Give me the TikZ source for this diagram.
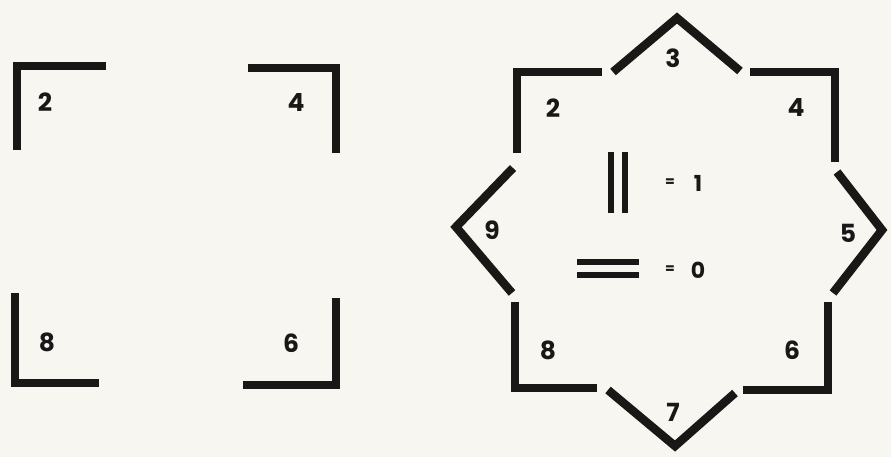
\documentclass[tikz,border=0pt]{standalone}
\usepackage{fontspec}
\setsansfont{Poppins}
\definecolor{ink}{RGB}{26,24,22}
\definecolor{paper}{RGB}{248,246,240}
\tikzset{
	bar/.style={draw=ink, line width=8.5pt, line join=miter},
	thinbar/.style={draw=ink, line width=6pt},
	num/.style={text=ink, font=\sffamily\bfseries\fontsize{25}{28}\selectfont},
	key/.style={text=ink, font=\sffamily\bfseries\fontsize{22}{24}\selectfont},
	keyeq/.style={text=ink, font=\sffamily\bfseries\fontsize{14}{15}\selectfont}
}
\begin{document}
\begin{tikzpicture}[x=1pt, y=-1pt]
	\fill[paper] (0,0) rectangle (891,457);
	\useasboundingbox (0,0) rectangle (891,457);

	% four separate corners
	\draw[bar] (17,150) -- (17,66) -- (106,66);
	\draw[bar] (248,68) -- (336,68) -- (336,153);
	\draw[bar] (15,293) -- (15,383) -- (99,383);
	\draw[bar] (243,385) -- (336,385) -- (336,298);
	\node[num] (a2) at (45,102) {2};
	\node[num] (a4) at (296,103) {4};
	\node[num] (a8) at (47,342) {8};
	\node[num] (a6) at (291,343) {6};

	% the star
	\draw[bar] (517,153) -- (517,72) -- (602,72);
	\draw[bar] (613,72) -- (677,18) -- (740,71);
	\draw[bar] (750,72) -- (835,72) -- (835,162);
	\draw[bar] (837,172) -- (882,230) -- (833,293);
	\draw[bar] (828,302) -- (828,390) -- (743,390);
	\draw[bar] (735,393) -- (675,446) -- (608,390);
	\draw[bar] (597,388) -- (515,388) -- (515,302);
	\draw[bar] (512,293) -- (456,227) -- (513,168);
	\node[num] (b2) at (553,108) {2};
	\node[num] (b3) at (673,58) {3};
	\node[num] (b4) at (796,108) {4};
	\node[num] (b5) at (848,233) {5};
	\node[num] (b6) at (792,350) {6};
	\node[num] (b7) at (673,412) {7};
	\node[num] (b8) at (548,350) {8};
	\node[num] (b9) at (492,230) {9};

	% key
	\draw[thinbar] (611,152) -- (611,213);
	\draw[thinbar] (625,152) -- (625,213);
	\draw[thinbar] (577,262) -- (639,262);
	\draw[thinbar] (577,275) -- (639,275);
	\node[keyeq] (eq1) at (670,183) {=};
	\node[key] (one) at (698,183) {1};
	\node[keyeq] (eq0) at (670,270) {=};
	\node[key] (zero) at (698,270) {0};
\end{tikzpicture}
\end{document}
